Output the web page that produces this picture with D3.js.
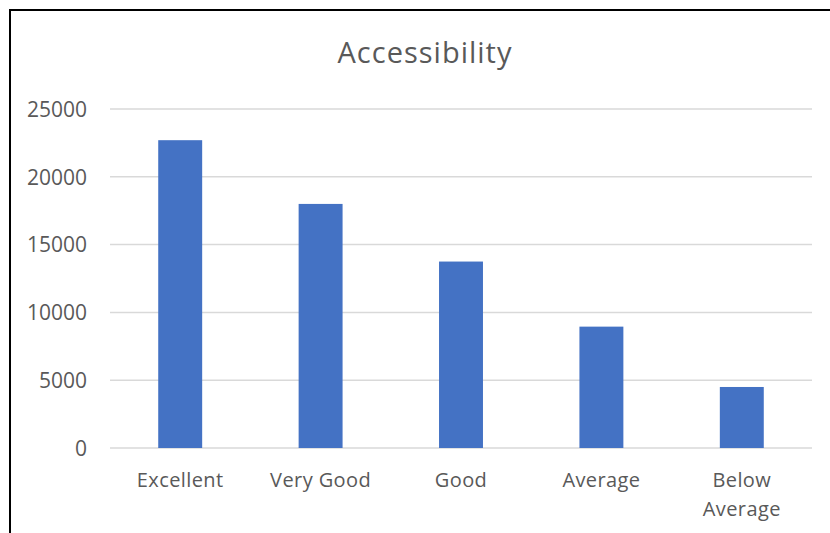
<!DOCTYPE html>
<html><head><meta charset="utf-8">
<script src="https://cdn.jsdelivr.net/npm/d3@7"></script>
<style>body{margin:0;background:#fff}svg{display:block}</style>
</head><body>
<script>
const categories = ["Excellent", "Very Good", "Good", "Average", "Below Average"];
const values = [22700, 18000, 13750, 8950, 4500];
const yTicks = [0, 5000, 10000, 15000, 20000, 25000];
const title = "Accessibility";

(function () {
const W = 830, H = 533;
const svg = d3.select("body").append("svg").attr("width", W).attr("height", H);
svg.append("rect").attr("width", W).attr("height", H).attr("fill", "#fff");
svg.append("rect").attr("x", 10).attr("y", 10).attr("width", 840).attr("height", 560)
  .attr("fill", "none").attr("stroke", "#000").attr("stroke-width", 2);

const font = "'Open Sans', sans-serif";
const pLeft = 110, pRight = 812, pTop = 109, pBottom = 448;
const x = d3.scaleBand().domain(categories).range([pLeft, pRight]).paddingInner(0.687).paddingOuter(0.3435);
const y = d3.scaleLinear().domain([0, 25000]).range([pBottom, pTop]);

svg.append("g").selectAll("line").data(yTicks).join("line")
  .attr("x1", pLeft).attr("x2", pRight)
  .attr("y1", d => y(d)).attr("y2", d => y(d))
  .attr("stroke", "#d9d9d9").attr("stroke-width", 1.5);

const yAxis = d3.axisLeft(y).tickValues(yTicks).tickSize(0).tickPadding(0).tickFormat(d3.format("d"));
const ya = svg.append("g").attr("transform", `translate(${87},0)`).call(yAxis);
ya.select(".domain").remove();
ya.selectAll("text").attr("font-family", font).attr("font-size", 21).attr("fill", "#595959").attr("dy", "0.35em");

svg.append("g").selectAll("rect").data(values).join("rect")
  .attr("x", (d, i) => x(categories[i])).attr("width", x.bandwidth())
  .attr("y", d => y(d)).attr("height", d => y(0) - y(d))
  .attr("fill", "#4472C4");

const xAxis = d3.axisBottom(x).tickSize(0).tickPadding(0);
const xa = svg.append("g").attr("transform", `translate(0,${pBottom})`).call(xAxis);
xa.select(".domain").remove();
xa.selectAll("text").each(function(d) {
  const t = d3.select(this);
  t.text(null).attr("font-family", font).attr("font-size", 20).attr("letter-spacing", 0.4)
    .attr("fill", "#595959").attr("dy", null).attr("y", 0);
  const words = d === "Below Average" ? ["Below", "Average"] : [d];
  words.forEach((w, i) => t.append("tspan").attr("x", 0).attr("y", 39 + i * 29).text(w));
});

svg.append("text").attr("x", 425).attr("y", 63).attr("text-anchor", "middle")
  .attr("font-family", font).attr("font-size", 29).attr("letter-spacing", 1)
  .attr("fill", "#595959").text(title);
})();
</script>
</body></html>
